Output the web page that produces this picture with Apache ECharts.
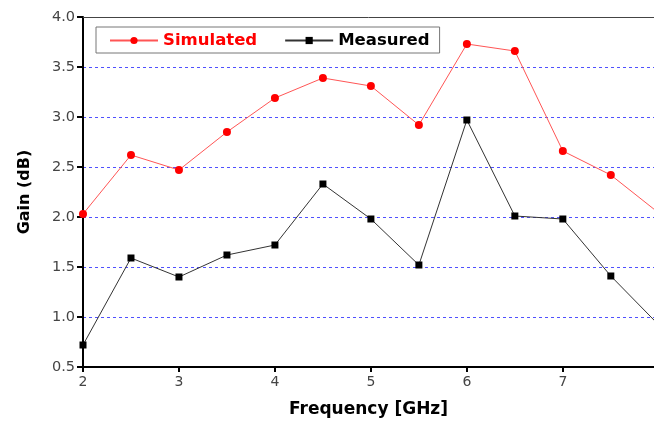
<!DOCTYPE html>
<html><head><meta charset="utf-8">
<script src="https://cdn.jsdelivr.net/npm/echarts@6/dist/echarts.min.js"></script>
<style>html,body{margin:0;padding:0;background:#fff}#c{width:654px;height:423px}</style>
</head><body><div id="c"></div>
<script>
const freq = [2, 2.5, 3, 3.5, 4, 4.5, 5, 5.5, 6, 6.5, 7, 7.5, 8];
const simulated = [2.03, 2.62, 2.47, 2.85, 3.19, 3.39, 3.31, 2.92, 3.73, 3.66, 2.66, 2.42, 2.04];
const measured = [0.72, 1.59, 1.40, 1.62, 1.72, 2.33, 1.98, 1.52, 2.97, 2.01, 1.98, 1.41, 0.92];
const yTicks = ['0.5','1.0','1.5','2.0','2.5','3.0','3.5','4.0'];

const chart = echarts.init(document.getElementById('c'));
const bold = '"DejaVu Sans", Verdana, sans-serif';
const lab = '"DejaVu Sans", Verdana, sans-serif';
chart.setOption({
  animation: false,
  grid: { left: 83, top: 17, right: 0, bottom: 51 },
  legend: {
    left: 96, top: 27,
    orient: 'horizontal',
    borderColor: '#777', borderWidth: 1,
    padding: [5, 10, 4, 13],
    itemGap: 27, itemWidth: 48, itemHeight: 9,
    textStyle: { fontFamily: bold, fontWeight: 'bold', fontSize: 16.5 },
    data: [
      { name: 'Simulated', textStyle: { color: '#ff0000' } },
      { name: 'Measured', textStyle: { color: '#000' } }
    ]
  },
  xAxis: [{
    type: 'value', min: 2, max: 7.95, interval: 1,
    name: 'Frequency [GHz]', nameLocation: 'middle', nameGap: 34,
    nameTextStyle: { fontFamily: bold, fontWeight: 'bold', fontSize: 17, color: '#000' },
    axisLine: { lineStyle: { color: '#000', width: 2 } },
    axisTick: { show: true, length: 5, lineStyle: { color: '#000', width: 2 } },
    axisLabel: { fontFamily: lab, fontSize: 14, color: '#444', margin: 8, showMaxLabel: false },
    splitLine: { show: false }
  }, {
    type: 'value', position: 'top', min: 2, max: 7.95,
    axisLine: { show: true, onZero: false, lineStyle: { color: '#444', width: 1 } },
    axisTick: { show: false }, axisLabel: { show: false }, splitLine: { show: false }
  }],
  yAxis: {
    type: 'value', min: 0.5, max: 4.0, interval: 0.5,
    name: 'Gain (dB)', nameLocation: 'middle', nameGap: 50, nameRotate: 90,
    nameTextStyle: { fontFamily: bold, fontWeight: 'bold', fontSize: 16, color: '#000' },
    axisLine: { show: true, lineStyle: { color: '#000', width: 2 } },
    axisTick: { show: true, length: 6, lineStyle: { color: '#000', width: 2 } },
    axisLabel: { fontFamily: lab, fontSize: 14.5, color: '#444', margin: 8,
      formatter: v => yTicks[Math.round((v - 0.5) / 0.5)] },
    splitLine: { show: true, lineStyle: { color: 'rgb(80,80,255)', type: [3, 3], width: 1 } }
  },
  series: [{
    name: 'Simulated', type: 'line', data: freq.map((f, i) => [f, simulated[i]]),
    symbol: 'circle', symbolSize: 8, clip: true,
    lineStyle: { color: '#ff5555', width: 1 },
    itemStyle: { color: '#ff0000' }
  }, {
    name: 'Measured', type: 'line', data: freq.map((f, i) => [f, measured[i]]),
    symbol: 'rect', symbolSize: 7, clip: true,
    lineStyle: { color: '#333', width: 1 },
    itemStyle: { color: '#000' }
  }]
});
</script></body></html>
